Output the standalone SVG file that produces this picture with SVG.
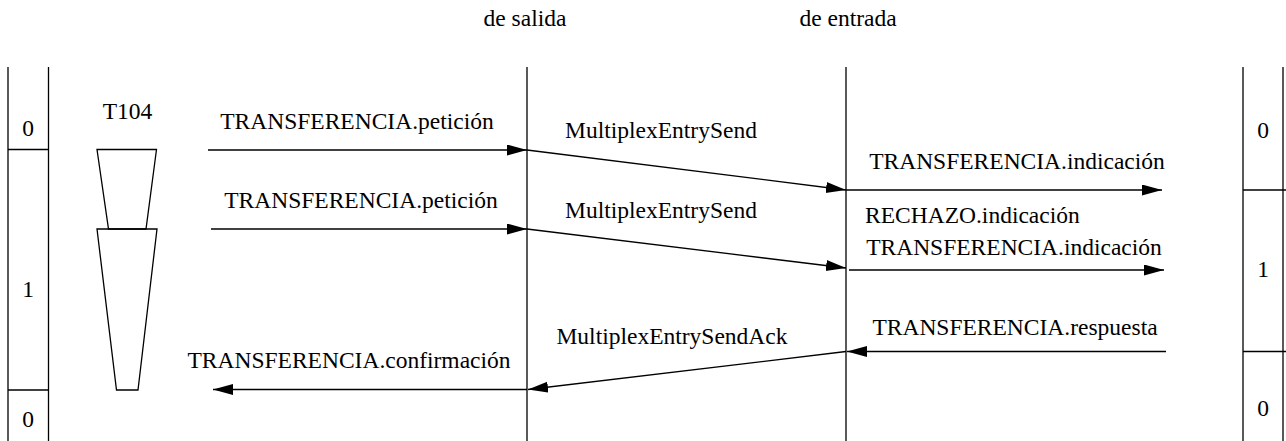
<svg xmlns="http://www.w3.org/2000/svg" width="1286" height="441" viewBox="0 0 1286 441">
<style>
text{font-family:"Times New Roman","Liberation Serif","DejaVu Serif",serif;font-size:23.5px;fill:#000}
.ln{stroke:#000;stroke-width:1.3;fill:none}
.ar{stroke:#000;stroke-width:1.3;fill:none;marker-end:url(#ah)}
</style>
<defs>
<marker id="ah" markerUnits="userSpaceOnUse" markerWidth="22" markerHeight="12" refX="20" refY="5.5" orient="auto">
<path d="M0,0 L20,5.5 L0,11 z" fill="#000"/>
</marker>
</defs>
<g id="header">
<text x="525" y="26" text-anchor="middle">de salida</text>
<text x="848" y="26" text-anchor="middle">de entrada</text>
</g>
<g id="left-state">
<line class="ln" x1="8" y1="67" x2="8" y2="441"/>
<line class="ln" x1="48.5" y1="67" x2="48.5" y2="441"/>
<line class="ln" x1="8" y1="149.5" x2="48.5" y2="149.5"/>
<line class="ln" x1="8" y1="390" x2="48.5" y2="390"/>
<text x="28" y="136" text-anchor="middle">0</text>
<text x="28" y="297" text-anchor="middle">1</text>
<text x="28" y="427" text-anchor="middle">0</text>
</g>
<g id="right-state">
<line class="ln" x1="1243" y1="67" x2="1243" y2="441"/>
<line class="ln" x1="1283" y1="67" x2="1283" y2="441"/>
<line class="ln" x1="1243" y1="190" x2="1286" y2="190"/>
<line class="ln" x1="1243" y1="351.5" x2="1286" y2="351.5"/>
<text x="1263" y="138" text-anchor="middle">0</text>
<text x="1263" y="277" text-anchor="middle">1</text>
<text x="1263" y="416" text-anchor="middle">0</text>
</g>
<g id="lifeline-out">
<line class="ln" x1="527" y1="67" x2="527" y2="441"/>
</g>
<g id="lifeline-in">
<line class="ln" x1="846" y1="67" x2="846" y2="441"/>
</g>
<g id="timer-T104">
<text x="127.5" y="119" text-anchor="middle">T104</text>
<polygon class="ln" points="97,149.5 156.5,149.5 146,229 108.5,229"/>
<polygon class="ln" points="97,229 157,229 138,390 116.5,390"/>
</g>
<g id="connectors">
<line class="ar" x1="208" y1="150" x2="527" y2="150"/>
<line class="ar" x1="211" y1="229" x2="527" y2="229"/>
<line class="ar" x1="527" y1="150" x2="846" y2="190"/>
<line class="ar" x1="527" y1="229" x2="846" y2="268"/>
<line class="ar" x1="846" y1="190" x2="1162" y2="190"/>
<line class="ar" x1="849" y1="270" x2="1164" y2="270"/>
<line class="ar" x1="1166" y1="351.5" x2="847" y2="351.5"/>
<line class="ar" x1="846" y1="351.5" x2="528" y2="389.5"/>
<line class="ar" x1="527" y1="389.5" x2="213" y2="389.5"/>
</g>
<g id="labels">
<text x="357" y="129" text-anchor="middle">TRANSFERENCIA.petición</text>
<text x="361" y="208" text-anchor="middle">TRANSFERENCIA.petición</text>
<text x="661" y="138" text-anchor="middle">MultiplexEntrySend</text>
<text x="661" y="218" text-anchor="middle">MultiplexEntrySend</text>
<text x="1017" y="169" text-anchor="middle">TRANSFERENCIA.indicación</text>
<text x="865" y="223">RECHAZO.indicación</text>
<text x="1014" y="255" text-anchor="middle">TRANSFERENCIA.indicación</text>
<text x="1015" y="335" text-anchor="middle">TRANSFERENCIA.respuesta</text>
<text x="672" y="344" text-anchor="middle">MultiplexEntrySendAck</text>
<text x="349" y="368" text-anchor="middle">TRANSFERENCIA.confirmación</text>
</g>
</svg>
